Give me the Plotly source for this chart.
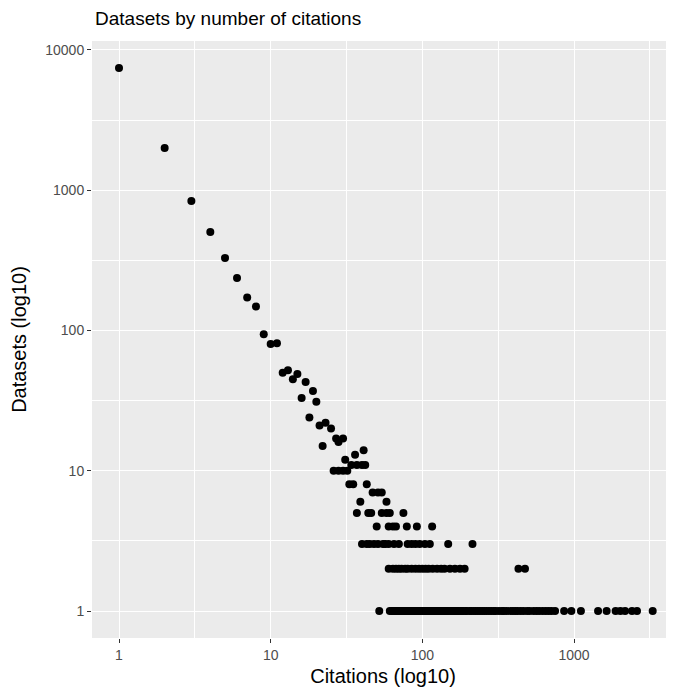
import plotly.graph_objects as go

# Citations (x) and number of datasets (y)
cit_top = [1, 2, 3, 4, 5, 6, 7, 8, 9, 10, 11, 12, 13, 14, 15, 16, 17, 18, 19, 20,
           21, 22, 23, 25, 27, 28, 30, 31, 36, 41]
ds_top = [7450, 2000, 838, 504, 329, 237, 172, 148, 94, 80, 81, 50, 52, 45, 49, 33, 43, 24, 37, 31,
          21, 15, 22, 20, 17, 16, 17, 12, 13, 14]

cit_11 = [34, 37, 40, 42]
cit_10 = [26, 28, 30, 32]
cit_8 = [33, 35, 43]
cit_7 = [47, 51, 54]
cit_6 = [39, 58]
cit_5 = [37, 44, 46, 54, 58, 61, 75]
cit_4 = [50, 60, 64, 67, 79, 92, 116]
cit_3 = [40, 43, 45, 48, 51, 55, 57, 60, 65, 70, 80, 85, 90, 96, 104, 112, 148, 214]
cit_2 = [60, 64, 67, 70, 73, 77, 80, 85, 90, 95, 100, 105, 110, 117, 125, 133, 140,
         152, 164, 177, 190, 430, 475]
cit_1 = [52, 61, 63, 64, 66, 67, 68, 69, 71, 72, 74, 75, 76, 78, 79, 81, 82, 84, 86, 87,
         88, 89, 91, 93, 94, 97, 98, 99, 102, 103, 106, 107, 108, 111, 113, 115, 118, 120,
         122, 124, 127, 130, 132, 135, 138, 142, 145, 147, 153, 156, 158, 163, 167, 170,
         172, 178, 182, 186, 193, 196, 205, 210, 218, 225, 232, 240, 248, 256, 265, 275,
         285, 296, 305, 320, 335, 345, 360, 380, 395, 410, 425, 445, 465, 490, 510, 540,
         565, 590, 620, 650, 680, 710, 750, 860, 960, 1110, 1440, 1640, 1880, 2020, 2170,
         2410, 2600, 3300]

x_ticks = [1, 10, 100, 1000]
x_tick_labels = ["1", "10", "100", "1000"]
y_ticks = [1, 10, 100, 1000, 10000]
y_tick_labels = ["1", "10", "100", "1000", "10000"]
minor_vals = [10 ** 0.5, 10 ** 1.5, 10 ** 2.5, 10 ** 3.5]

groups = [(cit_11, 11), (cit_10, 10), (cit_8, 8), (cit_7, 7), (cit_6, 6), (cit_5, 5),
          (cit_4, 4), (cit_3, 3), (cit_2, 2), (cit_1, 1)]
xs = list(cit_top)
ys = list(ds_top)
for c, v in groups:
    xs += c
    ys += [v] * len(c)

fig = go.Figure()
fig.add_trace(go.Scatter(
    x=xs, y=ys, mode="markers",
    marker=dict(color="black", size=8, line=dict(width=0)),
    hoverinfo="x+y", showlegend=False,
))

font = "Liberation Sans, Arial, Helvetica, sans-serif"
axis_common = dict(
    type="log",
    showgrid=True, gridcolor="white", gridwidth=1.1,
    zeroline=False, showline=False,
    ticks="outside", ticklen=4, tickwidth=1, tickcolor="#333333",
    tickfont=dict(family=font, size=14, color="#4D4D4D"),
    minor=dict(tickvals=minor_vals, showgrid=True, gridcolor="white", gridwidth=0.55, ticks=""),
)

# page body has an 8px margin, so the figure is shifted by 8px
fig.update_layout(
    width=666, height=683,
    margin=dict(l=84, r=0, t=33, b=53),
    paper_bgcolor="white", plot_bgcolor="#EBEBEB",
    title=dict(text="Datasets by number of citations", x=87 / 666, xanchor="left",
               y=1 - 10 / 683, yanchor="middle",
               font=dict(family=font, size=19, color="black")),
    xaxis=dict(**axis_common, range=[-0.178, 3.659],
               tickvals=x_ticks, ticktext=x_tick_labels,
               title=dict(text="Citations (log10)", standoff=7,
                          font=dict(family=font, size=20, color="black"))),
    yaxis=dict(**axis_common, range=[-0.1925, 4.064],
               tickvals=y_ticks, ticktext=y_tick_labels,
               title=dict(text="Datasets (log10)", standoff=15,
                          font=dict(family=font, size=20, color="black"))),
)

fig.write_html("out.html")
